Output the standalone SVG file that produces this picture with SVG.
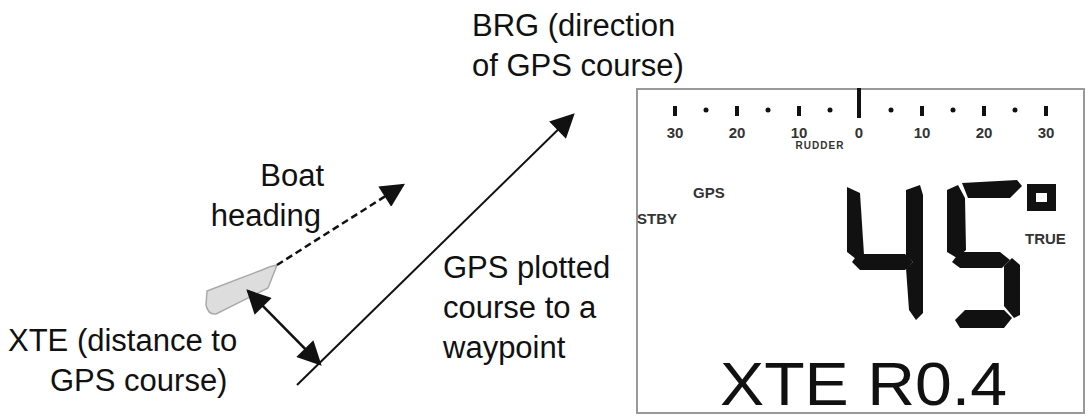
<svg xmlns="http://www.w3.org/2000/svg" width="1090" height="417" viewBox="0 0 1090 417">
<defs>
<marker id="ahb" viewBox="0 0 10 10" refX="9" refY="5" markerWidth="26" markerHeight="24" orient="auto-start-reverse" markerUnits="userSpaceOnUse"><path d="M0,0 L10,5 L0,10 Z" fill="#111"/></marker>
</defs>
<style>
.t{font-family:"Liberation Sans",Arial,sans-serif;fill:#111;font-size:31px}
.s{font-family:"Liberation Sans",Arial,sans-serif;fill:#333;font-size:15px;font-weight:bold}
.seg{fill:#111}
</style>
<rect width="1090" height="417" fill="#fff"/>
<g id="labels">
<text class="t" x="472" y="36">BRG (direction</text>
<text class="t" x="472" y="76">of GPS course)</text>
<text class="t" x="324" y="186" text-anchor="end">Boat</text>
<text class="t" x="321" y="226" text-anchor="end">heading</text>
<text class="t" x="443" y="278">GPS plotted</text>
<text class="t" x="443" y="318">course to a</text>
<text class="t" x="443" y="358">waypoint</text>
<text class="t" x="8" y="351">XTE (distance to</text>
<text class="t" x="50" y="391">GPS course)</text>
</g>
<g id="boat"><path d="M207,291 L262,270 Q270,266 277,265 L268,288 L216,314 Q208,315 206,305 Z" fill="#ddd" stroke="#aaa" stroke-width="1.5"/></g>
<g id="connectors" stroke="#111" fill="none">
<line x1="297" y1="385" x2="573" y2="115" stroke-width="2" marker-end="url(#ahb)"/>
<line x1="277" y1="265" x2="403" y2="185" stroke-width="2.5" stroke-dasharray="7,4" marker-end="url(#ahb)"/>
<line x1="248" y1="291" x2="320" y2="364" stroke-width="2.5" marker-start="url(#ahb)" marker-end="url(#ahb)"/>
</g>
<g id="display">
<rect x="637" y="89" width="447" height="324" fill="#fff" stroke="#999" stroke-width="2"/>
<g fill="#111">
<rect x="673" y="106" width="4" height="10"/><rect x="735" y="106" width="4" height="10"/><rect x="797" y="106" width="4" height="10"/>
<rect x="857" y="88" width="4" height="30"/>
<rect x="920" y="106" width="4" height="10"/><rect x="982" y="106" width="4" height="10"/><rect x="1044" y="106" width="4" height="10"/>
<circle cx="706" cy="110" r="2.5"/><circle cx="768" cy="110" r="2.5"/><circle cx="830" cy="110" r="2.5"/>
<circle cx="891" cy="110" r="2.5"/><circle cx="953" cy="110" r="2.5"/><circle cx="1015" cy="110" r="2.5"/>
</g>
<g class="s" text-anchor="middle" font-size="14">
<text x="675" y="138">30</text><text x="737" y="138">20</text><text x="799" y="138">10</text><text x="859" y="138">0</text><text x="922" y="138">10</text><text x="984" y="138">20</text><text x="1046" y="138">30</text>
<text x="820" y="149" font-size="10" letter-spacing="1">RUDDER</text>
</g>
<text class="s" x="693" y="198">GPS</text>
<text class="s" x="637" y="224">STBY</text>
<text class="s" x="1025" y="244">TRUE</text>
<g id="digits" class="seg">
<polygon points="847,187 860,193 864,255 856,259 847,252"/>
<polygon points="852,262 858,254 905,254 913,262 905,270 860,270"/>
<polygon points="906,190 920,185 923,195 923,313 916,320 909,310 906,268 913,262 906,256"/>
<polygon points="962,183 1017,180 1022,186 1010,198 968,198"/>
<polygon points="947,190 958,185 965,198 966,250 957,258 947,252"/>
<polygon points="952,262 960,252 1000,252 1010,260 1002,268 960,268"/>
<polygon points="1004,266 1012,258 1020,265 1020,315 1014,318 1004,306"/>
<polygon points="955,320 965,310 1004,310 1012,318 1004,328 960,328"/>
<path d="M1027,184 H1056 V211 H1027 Z M1036,193 V202 H1047 V193 Z" fill-rule="evenodd"/>
</g>
<text x="720" y="405" font-family="Liberation Sans,Arial,sans-serif" font-size="62" fill="#111" textLength="287" lengthAdjust="spacingAndGlyphs">XTE R0.4</text>
</g>
</svg>
